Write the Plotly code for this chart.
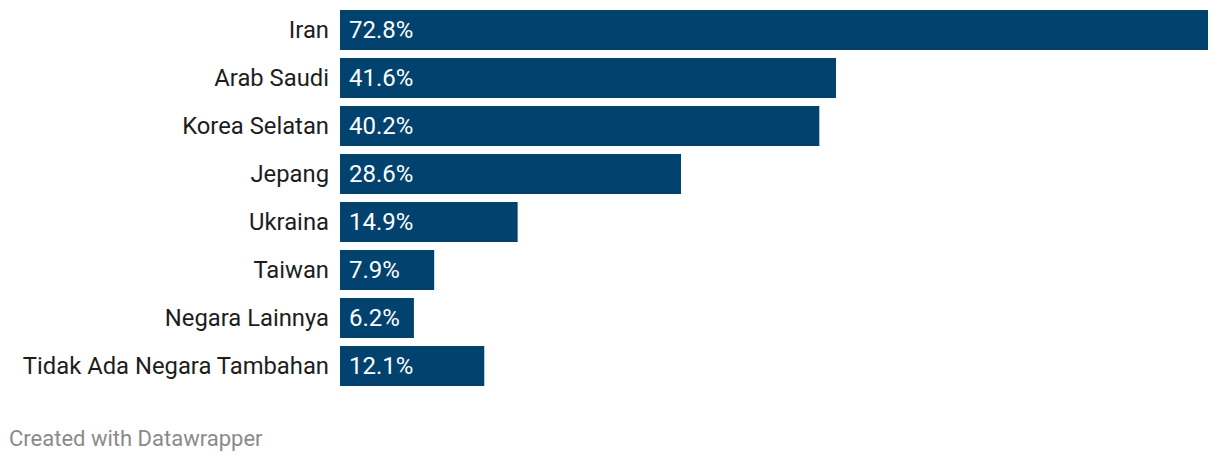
import plotly.graph_objects as go

categories = ["Iran", "Arab Saudi", "Korea Selatan", "Jepang", "Ukraina", "Taiwan",
              "Negara Lainnya", "Tidak Ada Negara Tambahan"]
values = [72.8, 41.6, 40.2, 28.6, 14.9, 7.9, 6.2, 12.1]
value_labels = ["72.8%", "41.6%", "40.2%", "28.6%", "14.9%", "7.9%", "6.2%", "12.1%"]

BAR = "#01426F"
FONT = "Roboto"

fig = go.Figure(go.Bar(
    x=values, y=categories, orientation="h",
    marker=dict(color=BAR, line=dict(width=0)),
    hoverinfo="skip",
))

for c, v, t in zip(categories, values, value_labels):
    fig.add_annotation(x=0, y=c, xref="x", yref="y", text=t, showarrow=False,
                       xanchor="left", yanchor="middle", xshift=7,
                       font=dict(family=FONT, size=24, color="white"))

fig.add_annotation(x=0, y=0, xref="paper", yref="paper", text="Created with Datawrapper",
                   showarrow=False, xanchor="left", yanchor="middle", xshift=-333, yshift=-48,
                   font=dict(family=FONT, size=22, color="#8a8a8a"))

fig.update_layout(
    width=1220, height=462,
    margin=dict(l=340, r=12, t=6, b=72),
    paper_bgcolor="white", plot_bgcolor="white",
    bargap=1/6,
    showlegend=False,
    xaxis=dict(range=[0, 72.8], visible=False, fixedrange=True),
    yaxis=dict(autorange="reversed", showgrid=False, zeroline=False, showline=False,
               ticks="", ticklabelstandoff=10, fixedrange=True,
               tickfont=dict(family=FONT, size=23.8, color="#1d1d1d")),
)

fig.write_html("out.html", config={"displayModeBar": False},
               post_script="document.body.style.margin='0';")
